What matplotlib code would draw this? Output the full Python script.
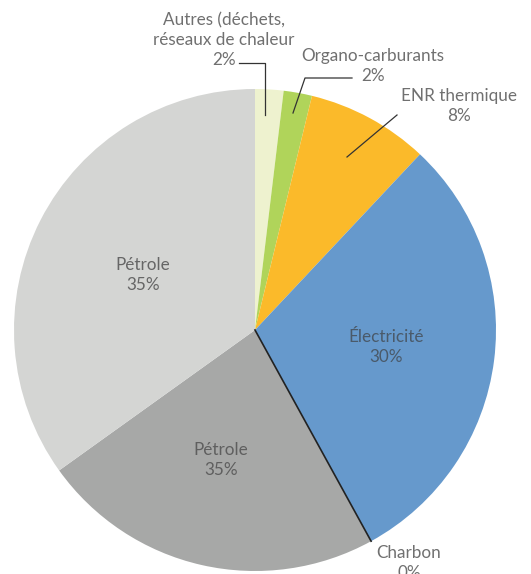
import numpy as np
import matplotlib.pyplot as plt

# slices clockwise from 12 o'clock
names = ['Autres', 'Organo-carburants', 'ENR thermique', 'Électricité', 'Charbon', 'Pétrole (gris foncé)', 'Pétrole']
values = [1.9, 1.9, 8.2, 30.0, 0.0, 23.1, 34.9]
colors = ['#eef2cf', '#b0d45a', '#fbba2a', '#6699cc', '#222222', '#a7a8a7', '#d4d5d3']

W, H = 531, 574
CX, CY, R = 255, 574 - 330, 241
TXT = '#707070'
FONT = ['Lato', 'DejaVu Sans']

fig = plt.figure(figsize=(W / 100, H / 100), dpi=100)
ax = fig.add_axes([0, 0, 1, 1])

ax.pie(values, colors=colors, startangle=90, counterclock=False,
       center=(CX, CY), radius=R, wedgeprops=dict(linewidth=0), frame=True)
ax.set_xlim(0, W)
ax.set_ylim(0, H)
ax.set_aspect('equal')
ax.axis('off')

# the 0% Charbon slice shows as a dark line
cum = np.cumsum(values)
a = np.deg2rad(90 - cum[3] / 100 * 360)
ax.plot([CX, CX + R * np.cos(a)], [CY, CY + R * np.sin(a)], color='#222222', lw=1.2)


def py(y):
    return H - y


def label(x, y, s, c=TXT):
    ax.text(x, py(y), s, ha='center', va='center', color=c, fontsize=12.3,
            family=FONT, linespacing=1.3)


label(224, 40, 'Autres (déchets,\nréseaux de chaleur\n2%')
label(373, 66, 'Organo-carburants\n2%')
label(459, 106, 'ENR thermique\n8%')
label(409, 563, 'Charbon\n0%')
label(143, 275, 'Pétrole\n35%', '#666666')
label(221, 460, 'Pétrole\n35%', '#5f5f5f')
label(386, 347, 'Électricité\n30%', '#4a5a6a')

# leader lines
lc = '#333333'
ax.plot([239, 265, 265], [py(63), py(63), py(115)], color=lc, lw=0.9)
ax.plot([352, 305, 293], [py(78), py(78), py(113)], color=lc, lw=0.9)
ax.plot([397, 347], [py(115), py(157)], color=lc, lw=0.9)

fig.savefig('out.png', dpi=100)
